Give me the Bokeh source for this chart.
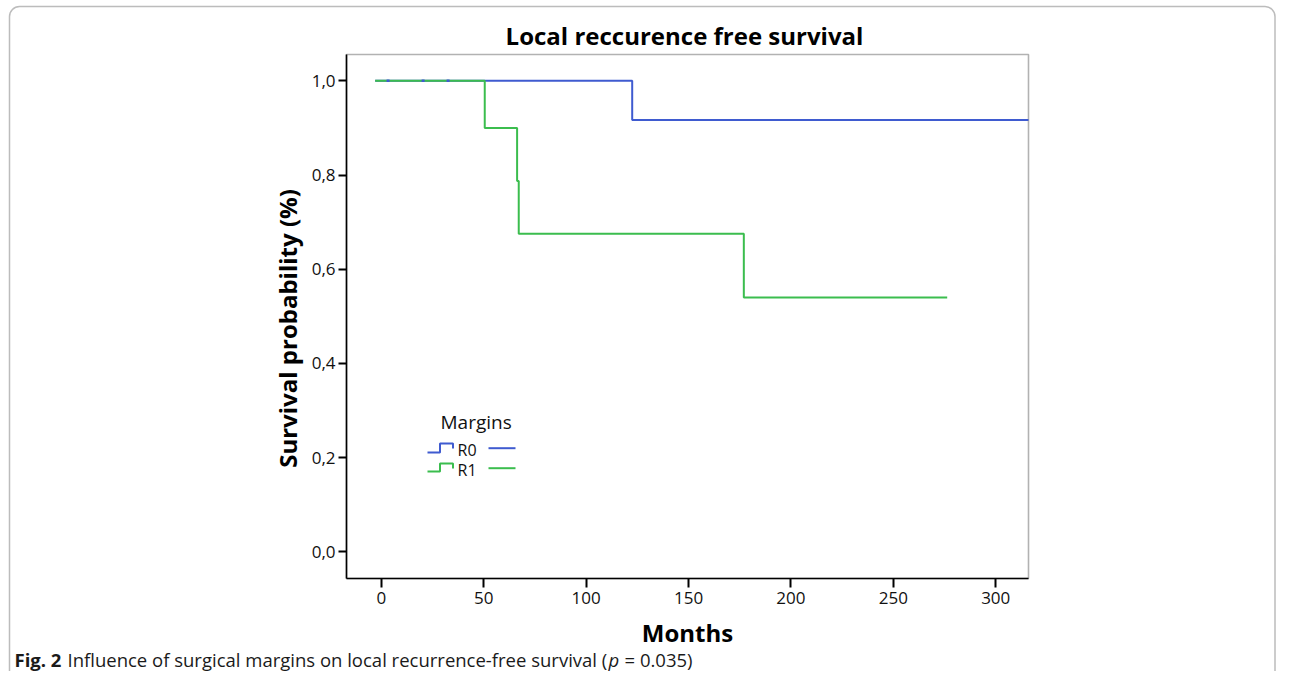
import math
from bokeh.plotting import figure
from bokeh.models import Range1d, FixedTicker, Label, BoxAnnotation
from bokeh.embed import file_html
from bokeh.resources import INLINE

# ---------------- data ----------------
r0_months = [-3.0, 122.5, 316.0]
r0_survival = [1.0, 0.917, 0.917]
r0_censor_months = [3.3, 20.4, 32.6]
r0_censor_survival = [1.0, 1.0, 1.0]

r1_months = [-3.0, 50.5, 66.3, 67.1, 177.0, 276.3]
r1_survival = [1.0, 0.900, 0.7875, 0.675, 0.540, 0.540]

x_ticks = [0, 50, 100, 150, 200, 250, 300]
y_ticks = [0.0, 0.2, 0.4, 0.6, 0.8, 1.0]
y_tick_labels = ["0,0", "0,2", "0,4", "0,6", "0,8", "1,0"]

series_names = ["R0", "R1"]
series_colors = ["#3f5bd0", "#3bbd4e"]

title_text = "Local reccurence free survival"
x_label = "Months"
y_label = "Survival probability (%)"
legend_title = "Margins"
caption_bold = "Fig. 2"
caption_main = "Influence of surgical margins on local recurrence-free survival ("
caption_italic = "p"
caption_end = "= 0.035)"

# ---------------- layout ----------------
W, H = 1276, 671
BL, BR, BT, BB = 346, 1028, 54, 578          # plot box on the canvas
X0, X1 = -17.0, 316.0
Y0, Y1 = -0.057, 1.056
KX = (X1 - X0) / (BR - BL)
KY = (Y1 - Y0) / (BB - BT)
XS, XE = X0 - BL * KX, X0 + (W - BL) * KX
YS, YE = Y1 - (H - BT) * KY, Y1 + BT * KY
FONT = "Open Sans"


def dx(px):
    return XS + px * KX


def dy(py):
    return YE - py * KY


p = figure(width=W, height=H, output_backend="svg", toolbar_location=None,
           x_range=Range1d(XS, XE), y_range=Range1d(YS, YE),
           min_border=0, title=None)

p.background_fill_color = "white"
p.border_fill_color = "white"
p.xgrid.visible = False
p.ygrid.visible = False
p.outline_line_color = None

for ax in (p.xaxis[0], p.yaxis[0]):
    ax.axis_line_color = "black"
    ax.axis_line_width = 1.6
    ax.major_tick_line_color = "black"
    ax.major_tick_line_width = 2
    ax.major_tick_in = 0
    ax.minor_tick_line_color = None
    ax.major_label_text_font = FONT
    ax.major_label_text_font_size = "17px"
    ax.major_label_text_color = "#111111"
    ax.axis_label_text_font = FONT
    ax.axis_label_text_font_size = "24px"
    ax.axis_label_text_font_style = "bold"
    ax.axis_label_text_color = "black"

p.xaxis.fixed_location = Y0
p.xaxis.bounds = (X0, X1)
p.xaxis.ticker = FixedTicker(ticks=x_ticks)
p.xaxis.major_tick_out = 9
p.xaxis.major_label_standoff = 4
p.xaxis.axis_label = x_label
p.xaxis.axis_label_standoff = 9

p.yaxis.fixed_location = X0
p.yaxis.bounds = (Y0, Y1)
p.yaxis.ticker = FixedTicker(ticks=y_ticks)
p.yaxis.major_label_overrides = {t: s for t, s in zip(y_ticks, y_tick_labels)}
p.yaxis.major_tick_out = 8
p.yaxis.major_label_standoff = 3

# plot box
p.add_layout(BoxAnnotation(left=X0, right=X1, bottom=Y0, top=Y1, fill_alpha=0,
                           line_color="black", line_width=1.6, level="underlay"))

# ---------------- curves ----------------
p.step(r0_months, r0_survival, mode="after", line_color=series_colors[0], line_width=2)
p.step(r1_months, r1_survival, mode="after", line_color=series_colors[1], line_width=2)
p.scatter(r0_censor_months, r0_censor_survival, marker="dash", size=3,
          line_color=series_colors[0], line_width=2.5)

# ---------------- titles ----------------
p.add_layout(Label(x=dx(684), y=dy(35), text=title_text, text_font=FONT,
                   text_font_size="24px", text_font_style="bold", text_align="center",
                   text_baseline="middle", text_color="black"))
p.add_layout(Label(x=dx(287), y=dy(328), text=y_label, text_font=FONT,
                   text_font_size="24px", text_font_style="bold", text_align="center",
                   text_baseline="middle", text_color="black", angle=math.pi / 2))

# ---------------- legend (drawn) ----------------
p.add_layout(Label(x=dx(440), y=dy(421), text=legend_title, text_font=FONT,
                   text_font_size="19px", text_baseline="middle", text_color="#111111"))
legend_rows = [(452, 443, 448, 449, 447.7), (471, 463, 468, 469, 467.7)]
for name, color, (low, high, rend, ty, ly) in zip(series_names, series_colors, legend_rows):
    p.line([dx(427), dx(439.5), dx(439.5), dx(452.5), dx(452.5)],
           [dy(low), dy(low), dy(high), dy(high), dy(rend)],
           line_color=color, line_width=2)
    p.add_layout(Label(x=dx(457), y=dy(ty), text=name, text_font=FONT,
                       text_font_size="16px", text_baseline="middle", text_color="#111111"))
    p.line([dx(488), dx(515)], [dy(ly), dy(ly)], line_color=color, line_width=2)

# ---------------- caption ----------------
cap_y = dy(659)
cap_kw = dict(text_font=FONT, text_font_size="18.5px", text_baseline="middle",
              text_color="#1a1a1a")
p.add_layout(Label(x=dx(14), y=cap_y, text=caption_bold, text_font_style="bold", **cap_kw))
p.add_layout(Label(x=dx(67), y=cap_y, text=caption_main, **cap_kw))
p.add_layout(Label(x=dx(608), y=cap_y, text=caption_italic, text_font_style="italic", **cap_kw))
p.add_layout(Label(x=dx(624), y=cap_y, text=caption_end, **cap_kw))

# ---------------- outer rounded frame ----------------
p.add_layout(BoxAnnotation(left=9, right=W - 1.5, top=H - 6, bottom=-14,
                           left_units="screen", right_units="screen",
                           top_units="screen", bottom_units="screen",
                           fill_alpha=0, line_color="#222222", line_width=1.5,
                           border_radius=10, level="overlay"))

open("out.html", "w").write(file_html(p, INLINE))
